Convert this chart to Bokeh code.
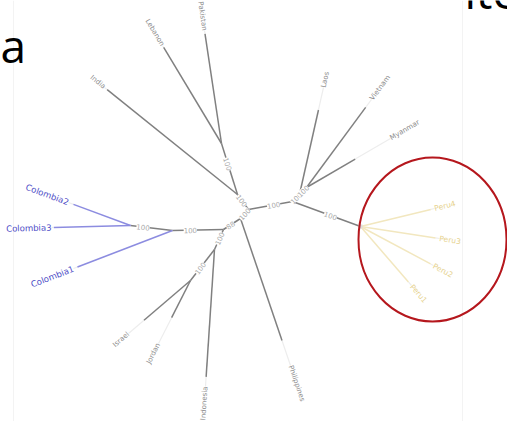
import math
from bokeh.plotting import figure
from bokeh.models import Range1d, ColumnDataSource
from bokeh.core.properties import value
from bokeh.embed import file_html
from bokeh.resources import INLINE

# ---- tree layout: internal nodes (layout coordinates, px) ----
node_names = ["C1", "C0", "D", "E", "F", "D2", "B2", "B1", "A", "G", "H", "H2", "P"]
node_x = [130, 172, 223, 214, 190, 240, 248, 237, 221, 292, 299, 306, 360]
node_y = [225, 230, 229, 249, 280, 218, 209, 194, 143, 201, 194, 187, 226]

# ---- internal edges with bootstrap support ----
edge_from = ["C0", "D", "D", "D", "E", "D2", "B2", "B1", "B2", "G", "H", "G"]
edge_to = ["C1", "C0", "D2", "E", "F", "B2", "B1", "A", "G", "H", "H2", "P"]
edge_support = ["100", "100", "88", "100", "100", "100", "100", "100", "100", "100", "100", "100"]
edge_label_t = [0.7, 0.65, 0.4, 0.45, 0.6, 0.5, 0.6, 0.6, 0.57, 0.5, 0.5, 0.56]

# ---- leaves ----
leaf_names = ["Colombia1", "Colombia2", "Colombia3", "India", "Lebanon", "Pakistan",
              "Laos", "Vietnam", "Myanmar", "Peru4", "Peru3", "Peru2", "Peru1",
              "Philippines", "Indonesia", "Jordan", "Israel"]
leaf_parent = ["C0", "C1", "C1", "B1", "A", "A", "H", "H2", "H2", "P", "P", "P", "P",
               "D2", "E", "F", "F"]
leaf_group = ["Colombia"] * 3 + ["other"] * 6 + ["Peru"] * 4 + ["other"] * 4
leaf_tip_x = [73, 68, 51, 104, 162, 204, 323, 371, 390, 434, 439, 433, 411, 290, 205, 158, 128]
leaf_tip_y = [268, 202, 227, 87, 45, 30, 87, 99, 138, 208, 238, 265, 285, 365, 386, 343, 333]
leaf_fade = [0.96, 0.92, 0.97, 0.98, 0.98, 0.97, 0.79, 0.91, 0.58, 0.95, 0.95, 0.96, 0.94,
             0.83, 0.93, 0.59, 0.75]

group_line = {"Colombia": "#8c8ce0", "Peru": "#f2e7bf", "other": "#808080"}
group_text = {"Colombia": "#4b4bc6", "Peru": "#e6d28e", "other": "#8c8c8c"}
group_size = {"Colombia": "8.5px", "Peru": "7.5px", "other": "7px"}


def pos(n):
    i = node_names.index(n)
    return node_x[i], node_y[i]


def screen_angle(x0, y0, x1, y1):
    return math.atan2(-(y1 - y0), x1 - x0)


p = figure(width=507, height=421, output_backend="svg", toolbar_location=None,
           x_range=Range1d(0, 507), y_range=Range1d(421, 0), min_border=0)
p.axis.visible = False
p.grid.visible = False
p.outline_line_color = None
p.background_fill_color = "white"

# faint slide borders
p.segment(x0=[13, 462], y0=[0, 0], x1=[13, 462], y1=[421, 421], line_color="#f3f3f3", line_width=1)

# slide text fragments
p.text(x=[0], y=[44], text=["a"], text_font=value("Open Sans"), text_font_size="46px",
       text_color="black", text_align="left", text_baseline="alphabetic")
p.text(x=[464], y=[-10], text=["ite"], text_font=value("Open Sans"), text_font_size="46px",
       text_color="black", text_align="left", text_baseline="alphabetic")

# internal edges
ex0, ey0, ex1, ey1 = [], [], [], []
for a, b in zip(edge_from, edge_to):
    xa, ya = pos(a)
    xb, yb = pos(b)
    ex0.append(xa); ey0.append(ya); ex1.append(xb); ey1.append(yb)
p.segment(x0=ex0, y0=ey0, x1=ex1, y1=ey1, line_color="#808080", line_width=1.5)

# leaf edges
for name, par, grp, tx, ty, f in zip(leaf_names, leaf_parent, leaf_group, leaf_tip_x, leaf_tip_y, leaf_fade):
    xa, ya = pos(par)
    xd, yd = xa + f * (tx - xa), ya + f * (ty - ya)
    p.segment(x0=[xd], y0=[yd], x1=[tx], y1=[ty], line_color="#ededed", line_width=1.2)
    p.segment(x0=[xa], y0=[ya], x1=[xd], y1=[yd], line_color=group_line[grp], line_width=1.5)

# leaf labels
for grp in ["Colombia", "Peru", "other"]:
    lx, ly, lt, la, lal = [], [], [], [], []
    for name, par, g, tx, ty in zip(leaf_names, leaf_parent, leaf_group, leaf_tip_x, leaf_tip_y):
        if g != grp:
            continue
        xa, ya = pos(par)
        ang = screen_angle(xa, ya, tx, ty)
        align = "left"
        if abs(ang) > math.pi / 2:
            ang = ang - math.pi if ang > 0 else ang + math.pi
            align = "right"
        lx.append(tx); ly.append(ty); lt.append(name); la.append(ang); lal.append(align)
    src = ColumnDataSource(dict(x=lx, y=ly, text=lt, angle=la, align=lal))
    p.text(x="x", y="y", text="text", angle="angle", text_align="align", source=src,
           text_baseline="middle", text_font=value("DejaVu Sans"),
           text_font_size=group_size[grp], text_color=group_text[grp])

# bootstrap labels
bx, by, bt, ba = [], [], [], []
for a, b, s, t in zip(edge_from, edge_to, edge_support, edge_label_t):
    xa, ya = pos(a)
    xb, yb = pos(b)
    ang = screen_angle(xa, ya, xb, yb)
    if ang > math.pi / 2:
        ang -= math.pi
    elif ang < -math.pi / 2:
        ang += math.pi
    bx.append(xa + t * (xb - xa)); by.append(ya + t * (yb - ya)); bt.append(s); ba.append(ang)
p.text(x=bx, y=by, text=bt, angle=ba, text_align="center", text_baseline="middle",
       text_font=value("DejaVu Sans"), text_font_size="7px", text_color="#aaaaaa",
       background_fill_color="white")

# Peru node marker
px, py = pos("P")
p.scatter(x=[px], y=[py], size=4, marker="square", fill_color="#dddddd", line_color=None)

# highlight ellipse around Peru clade
p.ellipse(x=[432], y=[239], width=[148], height=[164], fill_color=None,
          line_color="#b5171d", line_width=2)

open("out.html", "w").write(file_html(p, INLINE))
